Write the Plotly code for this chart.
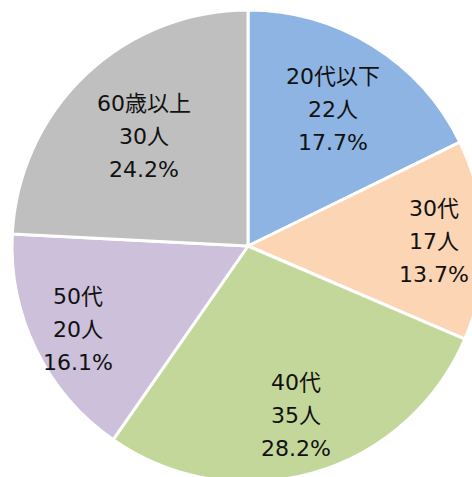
import math
import plotly.graph_objects as go

labels = ["20代以下", "30代", "40代", "50代", "60歳以上"]
counts = [22, 17, 35, 20, 30]
colors = ["#8DB4E2", "#FCD5B5", "#C4D79B", "#CCC0DA", "#BFBFBF"]
label_radius = [0.68, 0.79, 0.745, 0.80, 0.64]

W, H = 484, 482
ML, MT = 12, 10
PW = W - ML
PH = H - MT
R = min(PW, PH) / 2
cx = ML + PW / 2
cy = MT + PH / 2

fig = go.Figure(go.Pie(
    labels=labels, values=counts, sort=False, direction="clockwise", rotation=0,
    marker=dict(colors=colors, line=dict(color="white", width=3)),
    textinfo="none", hoverinfo="label+value+percent", showlegend=False,
    domain=dict(x=[0, 1], y=[0, 1]),
))

total = sum(counts)
cum = 0
annotations = []
font = dict(family="DejaVu Sans, Noto Sans CJK JP, sans-serif", size=22, color="#111111")
for lab, v, f in zip(labels, counts, label_radius):
    mid = (cum + v / 2) / total * 2 * math.pi
    cum += v
    px = cx + f * R * math.sin(mid)
    py = cy - f * R * math.cos(mid)
    xp = (px - ML) / PW
    yp = 1 - (py - MT) / PH
    lines = [lab, f"{v}人", f"{v / total * 100:.1f}%"]
    for i, t in enumerate(lines):
        annotations.append(dict(
            x=xp, y=yp, xref="paper", yref="paper", text=t, showarrow=False,
            xanchor="center", yanchor="middle", yshift=(1 - i) * 33, font=font,
        ))

fig.update_layout(
    width=W, height=H,
    margin=dict(l=ML, r=0, t=MT, b=0, pad=0),
    paper_bgcolor="white", plot_bgcolor="white",
    annotations=annotations,
)

fig.write_html(
    "out.html",
    config={"displayModeBar": False},
    post_script="document.body.style.margin='0';document.body.style.overflow='hidden';document.documentElement.style.overflow='hidden';",
)
